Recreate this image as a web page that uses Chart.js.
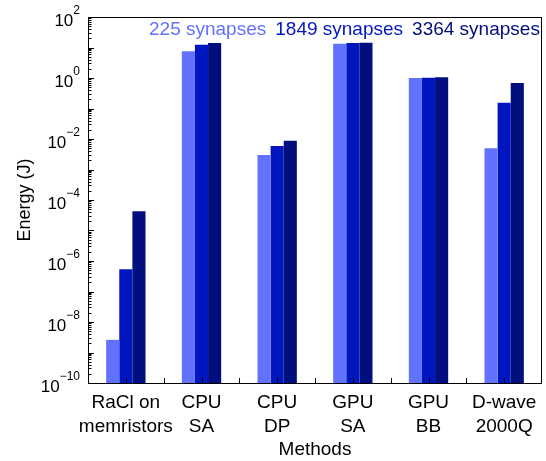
<!DOCTYPE html>
<html lang="en">
  <head>
    <meta charset="UTF-8" />
    <title>Energy by method</title>
    <script src="https://cdn.jsdelivr.net/npm/chart.js"></script>
    <style>
      html, body { margin: 0; padding: 0; background: #fff; }
      #wrap { width: 546px; height: 461px; }
    </style>
  </head>
  <body>
    <div id="wrap"><canvas id="energyChart" width="546" height="461"></canvas></div>
    <script>
      const methods = [
        ["RaCl on", "memristors"],
        ["CPU", "SA"],
        ["CPU", "DP"],
        ["GPU", "SA"],
        ["GPU", "BB"],
        ["D-wave", "2000Q"],
      ];
      const seriesNames = ["225 synapses", "1849 synapses", "3364 synapses"];
      const seriesColors = ["#6272ff", "#0016be", "#000f7d"];
      const energy225 = [2.6e-9, 7.5, 3.0e-3, 13.3, 1.0, 5.0e-3];
      const energy1849 = [5.4e-7, 12.3, 5.9e-3, 14.0, 1.02, 0.155];
      const energy3364 = [4.3e-5, 14.0, 8.7e-3, 14.3, 1.05, 0.69];
      const yExponents = [-10, -9, -8, -7, -6, -5, -4, -3, -2, -1, 0, 1, 2];
      const yLabelExponents = [-10, -8, -6, -4, -2, 0, 2];

      const FONT = "'Liberation Sans', Arial, sans-serif";
      const allSeries = [energy225, energy1849, energy3364];

      // ticks point inward, labels have superscripts, legend sits inside the box
      const framePlugin = {
        id: "frame",
        afterDraw(chart) {
          const ctx = chart.ctx;
          const area = chart.chartArea;
          const y = chart.scales.y;
          const x = chart.scales.x;
          ctx.save();
          ctx.strokeStyle = "#000";
          ctx.lineWidth = 1;
          ctx.strokeRect(Math.round(area.left) + 0.5, Math.round(area.top) + 0.5,
            Math.round(area.right - area.left) - 1, Math.round(area.bottom - area.top));

          ctx.beginPath();
          yExponents.forEach(function (e) {
            const py = Math.round(y.getPixelForValue(Math.pow(10, e))) + 0.5;
            ctx.moveTo(area.left, py);
            ctx.lineTo(area.left + 6, py);
            if (e < 2) {
              for (let m = 2; m < 10; m++) {
                const my = Math.round(y.getPixelForValue(m * Math.pow(10, e))) + 0.5;
                ctx.moveTo(area.left, my);
                ctx.lineTo(area.left + 3.5, my);
              }
            }
          });
          for (let i = 0; i < methods.length; i++) {
            const cx = Math.round(x.getPixelForValue(i)) + 0.5;
            ctx.moveTo(cx, area.bottom);
            ctx.lineTo(cx, area.bottom - 5);
            if (i < methods.length - 1) {
              const bx = Math.round((x.getPixelForValue(i) + x.getPixelForValue(i + 1)) / 2) + 0.5;
              ctx.moveTo(bx, area.bottom);
              ctx.lineTo(bx, area.bottom - 5);
            }
          }
          ctx.stroke();

          // y labels 10^e
          ctx.fillStyle = "#000";
          ctx.textBaseline = "middle";
          yLabelExponents.forEach(function (e) {
            const py = y.getPixelForValue(Math.pow(10, e));
            const sup = e < 0 ? "\u2212" + Math.abs(e) : String(e);
            ctx.font = "12px " + FONT;
            const supW = ctx.measureText(sup).width;
            ctx.textAlign = "right";
            ctx.fillText(sup, 80, py - 6);
            ctx.font = "17px " + FONT;
            ctx.fillText("10", 80 - supW, py + 4);
          });

          // legend
          ctx.font = "19px " + FONT;
          ctx.textAlign = "left";
          let lx = 149;
          chart.data.datasets.forEach(function (ds) {
            ctx.fillStyle = ds.backgroundColor;
            ctx.fillText(ds.label, lx, 30);
            lx += ctx.measureText(ds.label).width + 9;
          });
          ctx.restore();
        },
      };

      new Chart(document.getElementById("energyChart").getContext("2d"), {
        type: "bar",
        data: {
          labels: methods,
          datasets: seriesNames.map(function (name, i) {
            return {
              label: name,
              data: allSeries[i],
              backgroundColor: seriesColors[i],
              borderWidth: 0,
              categoryPercentage: 0.52,
              barPercentage: 1.0,
            };
          }),
        },
        options: {
          responsive: false,
          animation: false,
          layout: { padding: { top: 17, right: 4, bottom: 0, left: 0 } },
          plugins: {
            legend: { display: false },
            tooltip: { enabled: false },
          },
          scales: {
            x: {
              grid: { display: false, drawTicks: false },
              border: { display: false },
              ticks: {
                color: "#000",
                padding: 8,
                maxRotation: 0,
                autoSkip: false,
                font: { family: FONT, size: 19, lineHeight: 1.26 },
              },
              title: {
                display: true,
                text: "Methods",
                color: "#000",
                padding: { top: 0, bottom: 0 },
                font: { family: FONT, size: 19 },
              },
              afterFit: function (scale) {
                scale.height = 78;
              },
            },
            y: {
              type: "logarithmic",
              min: 1e-10,
              max: 1e2,
              grid: { display: false, drawTicks: false },
              border: { display: false },
              ticks: { display: false },
              title: {
                display: true,
                text: "Energy (J)",
                color: "#000",
                padding: { top: 14, bottom: 0 },
                font: { family: FONT, size: 18 },
              },
              afterFit: function (scale) {
                scale.width = 88;
              },
            },
          },
        },
        plugins: [framePlugin],
      });
    </script>
  </body>
</html>
